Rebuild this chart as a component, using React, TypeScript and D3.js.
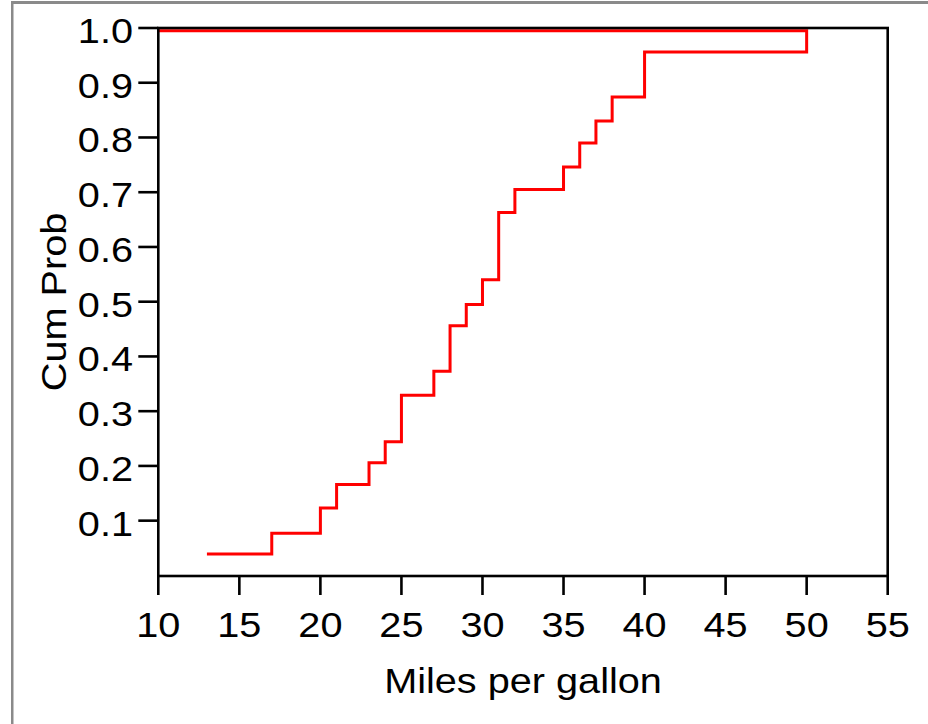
import React from "react";
import * as d3 from "d3";

// Empirical CDF of fuel economy: step positions (mpg) and cumulative probability
const mpgValues = [13, 17, 20, 21, 23, 24, 25, 27, 28, 29, 30, 31, 32, 35, 36, 37, 38, 40, 50];
const cumProb = [0.039, 0.077, 0.123, 0.166, 0.206, 0.244, 0.329, 0.373, 0.456, 0.495, 0.54, 0.663, 0.705, 0.746, 0.79, 0.83, 0.874, 0.956, 0.995];
const xTicks = [10, 15, 20, 25, 30, 35, 40, 45, 50, 55];
const yTicks = [0.1, 0.2, 0.3, 0.4, 0.5, 0.6, 0.7, 0.8, 0.9, 1.0];
const xTitle = "Miles per gallon";
const yTitle = "Cum Prob";

const W = 928;
const H = 724;
const left = 158.3;
const right = 887.7;
const top = 28;
const bottom = 576;
const FONT = "'Liberation Sans', Arial, Helvetica, sans-serif";
const FS = 34.5;
const SX = 1.15;

export default function App() {
  const x = d3.scaleLinear().domain([10, 55]).range([left, right]);
  const y = d3.scaleLinear().domain([0, 1]).range([575.4, top]);

  const pts: [number, number][] = mpgValues.map((m, i) => [m, cumProb[i]]);
  // the curve closes back along the top to the axis start
  pts.push([10, cumProb[cumProb.length - 1]]);
  const line = d3
    .line<[number, number]>()
    .x((d) => x(d[0]))
    .y((d) => y(d[1]))
    .curve(d3.curveStepAfter);

  return (
    <svg
      width={W}
      height={H}
      style={{ position: "absolute", left: 0, top: 0, background: "#fff" }}
      fontFamily={FONT}
    >
      <rect x={0} y={0} width={W} height={H} fill="#fff" />
      {/* outer window edges */}
      <rect x={11} y={1} width={W - 11} height={3} fill="#8a8a8a" />
      <rect x={11} y={1} width={2.5} height={H} fill="#8a8a8a" />

      {/* data */}
      <path d={line(pts) || ""} fill="none" stroke="#ff0000" strokeWidth={3} />

      {/* frame */}
      <rect
        x={left}
        y={top}
        width={right - left}
        height={bottom - top}
        fill="none"
        stroke="#000"
        strokeWidth={2.6}
      />

      {/* y axis */}
      {yTicks.map((t) => (
        <g key={"y" + t}>
          <line x1={left - 20} x2={left} y1={y(t)} y2={y(t)} stroke="#000" strokeWidth={2.6} />
          <g transform={`translate(133,${y(t) + 15}) scale(${SX},1)`}>
            <text textAnchor="end" fontSize={FS} fill="#000">
              {t.toFixed(1)}
            </text>
          </g>
        </g>
      ))}

      {/* x axis */}
      {xTicks.map((t) => (
        <g key={"x" + t}>
          <line x1={x(t)} x2={x(t)} y1={bottom} y2={bottom + 19} stroke="#000" strokeWidth={2.6} />
          <g transform={`translate(${x(t)},637) scale(${SX},1)`}>
            <text textAnchor="middle" fontSize={FS} fill="#000">
              {t}
            </text>
          </g>
        </g>
      ))}

      {/* axis titles */}
      <g transform={`translate(${(left + right) / 2},693) scale(${SX},1)`}>
        <text textAnchor="middle" fontSize={FS} fill="#000">
          {xTitle}
        </text>
      </g>
      <g transform={`translate(66,${(top + bottom) / 2}) rotate(-90) scale(${SX},1)`}>
        <text textAnchor="middle" fontSize={FS} fill="#000">
          {yTitle}
        </text>
      </g>
    </svg>
  );
}
